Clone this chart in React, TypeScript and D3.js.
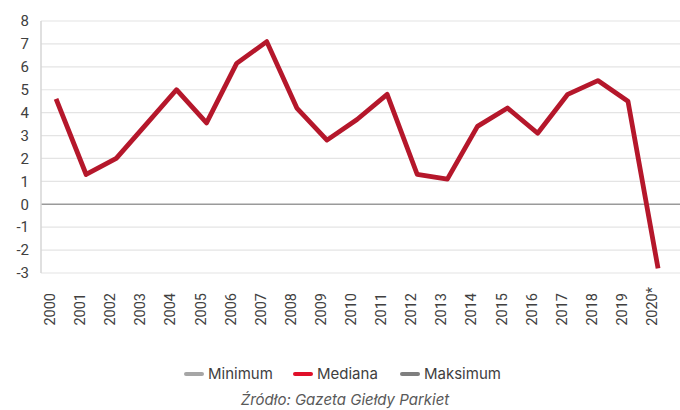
import React, { useEffect, useRef } from "react";
import { select, scaleBand, scaleLinear, line, axisLeft } from "d3";

const years = [
  "2000", "2001", "2002", "2003", "2004", "2005", "2006", "2007", "2008", "2009", "2010",
  "2011", "2012", "2013", "2014", "2015", "2016", "2017", "2018", "2019", "2020*",
];
const mediana = [
  4.6, 1.3, 2.0, 3.5, 5.0, 3.55, 6.15, 7.1, 4.2, 2.8, 3.7,
  4.8, 1.3, 1.1, 3.4, 4.2, 3.1, 4.8, 5.4, 4.5, -2.8,
];
const yTicks = [8, 7, 6, 5, 4, 3, 2, 1, 0, -1, -2, -3];
const legendItems = [
  { name: "Minimum", color: "#a6a6a6" },
  { name: "Mediana", color: "#e0102a" },
  { name: "Maksimum", color: "#7f7f7f" },
];
const source = "Źródło: Gazeta Giełdy Parkiet";

const W = 680;
const H = 410;
const FONT = "Roboto, 'Noto Sans', sans-serif";
const FONT2 = "Inter, Roboto, sans-serif";

export default function App() {
  const svgRef = useRef<SVGSVGElement>(null);

  useEffect(() => {
    const svg = select(svgRef.current);
    svg.selectAll("*").remove();

    const left = 41;
    const x = scaleBand().domain(years).range([left, left + 21 * 30.1]);
    const y = scaleLinear().domain([-3, 8]).range([273, 21]);

    // grid
    svg
      .append("g")
      .selectAll("line")
      .data(yTicks)
      .join("line")
      .attr("x1", left)
      .attr("x2", W)
      .attr("y1", (d) => y(d))
      .attr("y2", (d) => y(d))
      .attr("stroke", (d) => (d === 0 ? "#9a9a9a" : "#e4e4e4"))
      .attr("stroke-width", (d) => (d === 0 ? 1.5 : 1.2));

    svg
      .append("line")
      .attr("x1", left)
      .attr("x2", left)
      .attr("y1", y(8))
      .attr("y2", y(-3))
      .attr("stroke", "#d6d6d6")
      .attr("stroke-width", 1.5);

    // y axis labels
    const ya = svg
      .append("g")
      .attr("transform", `translate(${left},0)`)
      .call(axisLeft(y).tickValues(yTicks).tickSize(0).tickPadding(12).tickFormat((d) => String(d)));
    ya.select(".domain").remove();
    ya.selectAll("text")
      .attr("font-family", FONT)
      .attr("font-size", 15)
      .attr("fill", "#404040");

    // x labels, rotated
    svg
      .append("g")
      .selectAll("text")
      .data(years)
      .join("text")
      .attr("transform", (d) => `translate(${x(d)! + x.bandwidth() / 2 - 1},${d.endsWith("*") ? 287 : 293}) rotate(-90)`)
      .attr("text-anchor", "end")
      .attr("font-family", FONT)
      .attr("font-size", 14.5)
      .attr("fill", "#404040")
      .text((d) => d);

    const gen = line<number>()
      .x((_, i) => x(years[i])! + x.bandwidth() / 2)
      .y((d) => y(d));

    svg
      .append("path")
      .datum(mediana)
      .attr("d", gen)
      .attr("fill", "none")
      .attr("stroke", "#b5172b")
      .attr("stroke-width", 4.8)
      .attr("stroke-linejoin", "round");

    // legend
    const starts = [185, 294, 401];
    const lg = svg
      .append("g")
      .selectAll("g")
      .data(legendItems)
      .join("g")
      .attr("transform", (_, i) => `translate(${starts[i]},374)`);
    lg.append("line")
      .attr("x1", 1)
      .attr("x2", 17)
      .attr("stroke", (d) => d.color)
      .attr("stroke-width", 4)
      .attr("stroke-linecap", "round");
    lg.append("text")
      .attr("x", 23)
      .attr("dy", "0.35em")
      .attr("font-family", FONT2)
      .attr("font-size", 15)
      .attr("fill", "#404040")
      .text((d) => d.name);

    svg
      .append("text")
      .attr("x", 345)
      .attr("y", 405)
      .attr("text-anchor", "middle")
      .attr("font-family", FONT2)
      .attr("font-style", "italic")
      .attr("font-size", 15)
      .attr("fill", "#595959")
      .text(source);
  }, []);

  return (
    <div style={{ position: "absolute", left: 0, top: 0 }}>
      <svg ref={svgRef} width={W} height={H} style={{ display: "block", background: "#fff" }} />
    </div>
  );
}
